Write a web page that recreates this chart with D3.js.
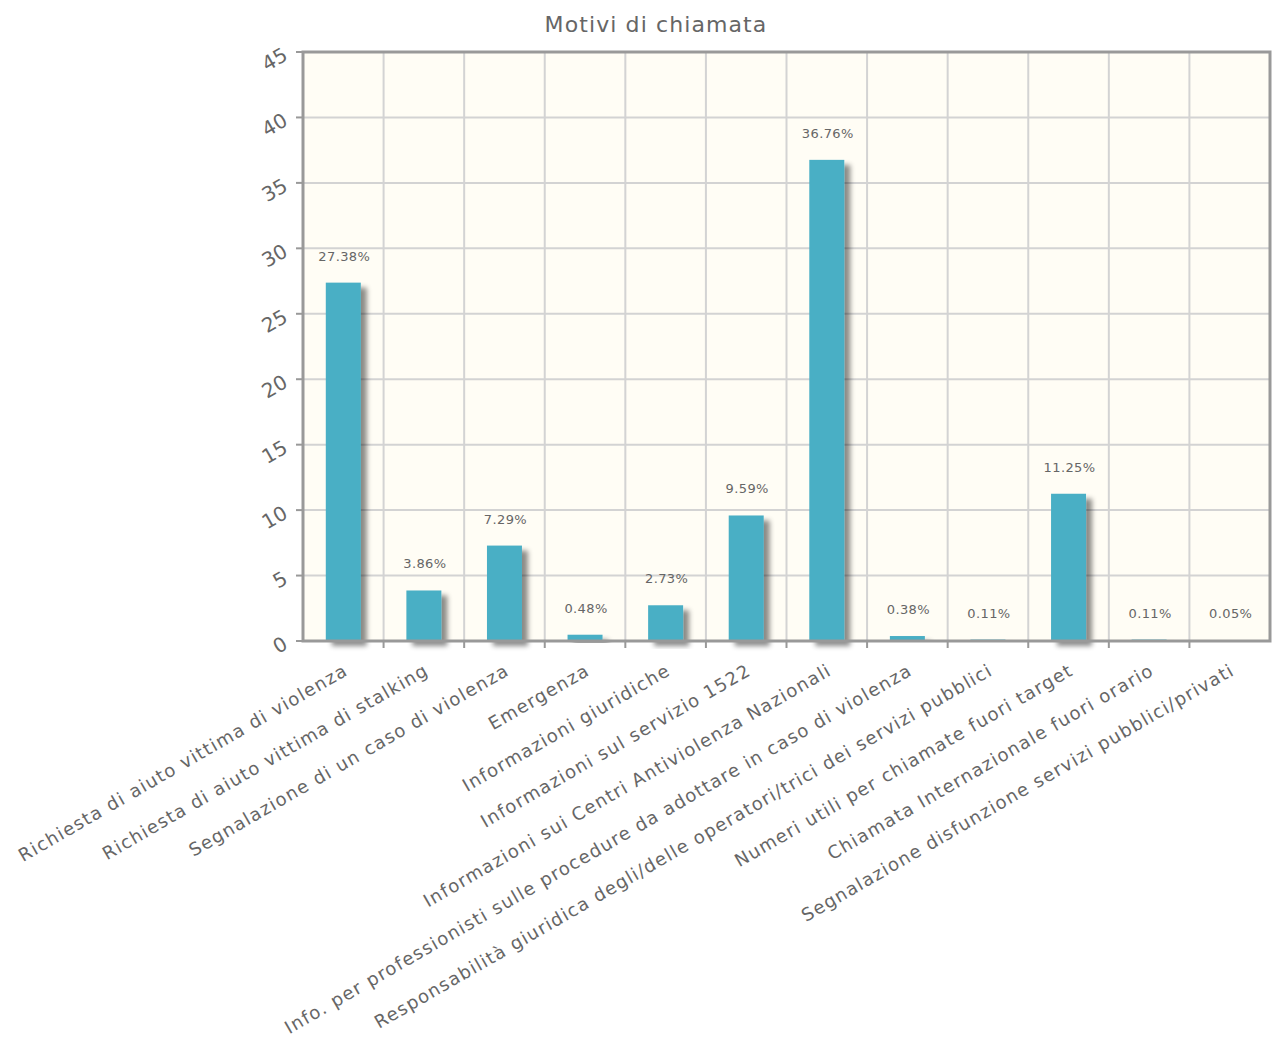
<!DOCTYPE html>
<html>
<head>
<meta charset="utf-8">
<script src="https://cdn.jsdelivr.net/npm/d3@7"></script>
<style>
  html, body { margin: 0; padding: 0; background: #ffffff; }
  svg { display: block; }
  text { font-family: "DejaVu Sans", Verdana, sans-serif; }
</style>
</head>
<body>
<script>
// Call reasons and their share of calls (%)
const categories = [
  "Richiesta di aiuto vittima di violenza",
  "Richiesta di aiuto vittima di stalking",
  "Segnalazione di un caso di violenza",
  "Emergenza",
  "Informazioni giuridiche",
  "Informazioni sul servizio 1522",
  "Informazioni sui Centri Antiviolenza Nazionali",
  "Info. per professionisti sulle procedure da adottare in caso di violenza",
  "Responsabilità giuridica degli/delle operatori/trici dei servizi pubblici",
  "Numeri utili per chiamate fuori target",
  "Chiamata Internazionale fuori orario",
  "Segnalazione disfunzione servizi pubblici/privati"
];
const values = [27.38, 3.86, 7.29, 0.48, 2.73, 9.59, 36.76, 0.38, 0.11, 11.25, 0.11, 0.05];
const yTicks = [0, 5, 10, 15, 20, 25, 30, 35, 40, 45];
const title = "Motivi di chiamata";

const W = 1273, H = 1039;
const plot = { left: 303, right: 1270, top: 52, bottom: 641 };

const svg = d3.select("body").append("svg").attr("width", W).attr("height", H);

const defs = svg.append("defs");
const shadow = defs.append("filter").attr("id", "barShadow")
  .attr("x", "-20%").attr("y", "-10%").attr("width", "170%").attr("height", "130%");
shadow.append("feDropShadow")
  .attr("dx", 6).attr("dy", 5).attr("stdDeviation", 2.8)
  .attr("flood-color", "#000").attr("flood-opacity", 0.45);

const x = d3.scaleBand().domain(categories).range([plot.left, plot.right]).paddingInner(0).paddingOuter(0);
const y = d3.scaleLinear().domain([0, 45]).range([plot.bottom, plot.top]);

// plot background
svg.append("rect")
  .attr("x", plot.left).attr("y", plot.top)
  .attr("width", plot.right - plot.left).attr("height", plot.bottom - plot.top)
  .attr("fill", "#fffdf5");

// grid
const grid = svg.append("g").attr("stroke", "#d3d3d3").attr("stroke-width", 2);
grid.selectAll("line.h").data(yTicks.slice(1, -1)).join("line")
  .attr("x1", plot.left).attr("x2", plot.right)
  .attr("y1", d => y(d)).attr("y2", d => y(d));
grid.selectAll("line.v").data(categories.slice(1)).join("line")
  .attr("x1", d => x(d)).attr("x2", d => x(d))
  .attr("y1", plot.top).attr("y2", plot.bottom);

// bars
const barW = 35;
svg.append("g").selectAll("rect").data(values).join("rect")
  .attr("x", (d, i) => x(categories[i]) + x.bandwidth() / 2 - barW / 2)
  .attr("y", d => y(d))
  .attr("width", barW)
  .attr("height", d => Math.max(0.0001, y(0) - y(d)))
  .attr("fill", "#4aafc5")
  .attr("filter", "url(#barShadow)");

// frame
svg.append("rect")
  .attr("x", plot.left).attr("y", plot.top)
  .attr("width", plot.right - plot.left).attr("height", plot.bottom - plot.top)
  .attr("fill", "none").attr("stroke", "#999").attr("stroke-width", 3);

// y axis ticks & labels
const yAxis = svg.append("g");
yAxis.selectAll("line").data(yTicks).join("line")
  .attr("x1", plot.left - 7).attr("x2", plot.left)
  .attr("y1", d => y(d)).attr("y2", d => y(d))
  .attr("stroke", "#999").attr("stroke-width", 2);
yAxis.selectAll("text").data(yTicks).join("text")
  .attr("transform", d => `translate(${plot.left - 14},${y(d) + 7}) rotate(-30)`)
  .attr("text-anchor", "end")
  .attr("font-size", 20)
  .attr("fill", "#666")
  .text(d => d);

// x axis ticks
svg.append("g").selectAll("line").data(categories.slice(1)).join("line")
  .attr("x1", d => x(d)).attr("x2", d => x(d))
  .attr("y1", plot.bottom).attr("y2", plot.bottom + 7)
  .attr("stroke", "#999").attr("stroke-width", 2);

// x labels
svg.append("g").selectAll("text").data(categories).join("text")
  .attr("transform", d => `translate(${x(d) + x.bandwidth() / 2 + 6},${plot.bottom + 33}) rotate(-30)`)
  .attr("text-anchor", "end")
  .attr("font-size", 18)
  .attr("letter-spacing", 1.3)
  .attr("fill", "#666")
  .text(d => d);

// value labels
svg.append("g").selectAll("text").data(values).join("text")
  .attr("x", (d, i) => x(categories[i]) + x.bandwidth() / 2 + 1)
  .attr("y", d => y(d) - 22)
  .attr("text-anchor", "middle")
  .attr("font-size", 13)
  .attr("letter-spacing", 0.4)
  .attr("fill", "#666")
  .text(d => d.toFixed(2) + "%");

// title
svg.append("text")
  .attr("x", 656).attr("y", 32)
  .attr("text-anchor", "middle")
  .attr("font-size", 22)
  .attr("letter-spacing", 1.1)
  .attr("fill", "#666")
  .text(title);
</script>
</body>
</html>
